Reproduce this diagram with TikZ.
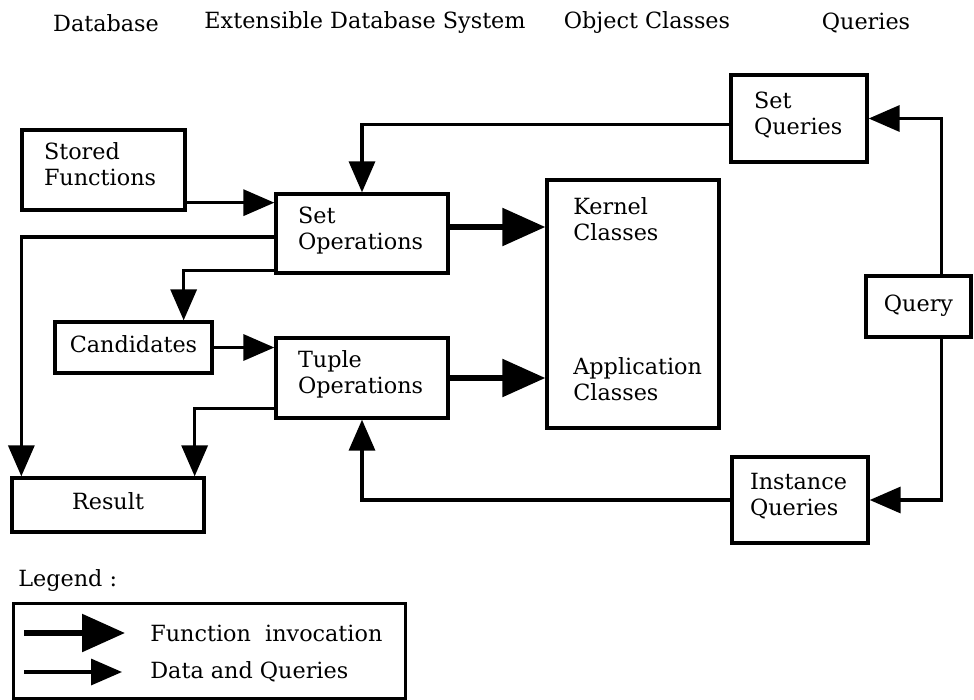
\documentclass[tikz,border=0pt]{standalone}
\usepackage{fontspec}
\setmainfont{DejaVu Serif}
\usetikzlibrary{positioning,arrows.meta,calc}

\tikzset{
  every node/.style={font=\fontsize{12.7}{14.8}\selectfont},
  blk/.style={draw, line width=1.9pt, inner xsep=0.44cm, inner ysep=0pt, align=left},
  oneln/.style={text depth=0.14cm},
  twoln/.style={text depth=0.74cm},
  dq/.style={line width=1.9pt, -{Triangle[length=0.62cm,width=0.52cm]}},
  fn/.style={line width=3.2pt, -{Triangle[length=0.86cm,width=0.74cm]}},
  txt/.style={inner sep=0pt, align=left},
}

\begin{document}
\begin{tikzpicture}[x=0.02cm, y=-0.02cm]
  \useasboundingbox (0,0) rectangle (974,700);

  % Column headings
  \node (hdb)   at (106,23) {Database};
  \node (heds)  at (365,23) {Extensible Database System};
  \node (hobj)  at (647,23) {Object Classes};
  \node (hqry)  at (866,23) {Queries};

  % Database side
  \node[blk, twoln, text width=2.38cm, minimum height=1.6cm] (sfun) at (103.5,170) {Stored\\Functions};
  \node[blk, oneln, inner xsep=0.2cm, minimum width=3.14cm, minimum height=1.02cm, align=center] (cand) at (133.5,347.5) {Candidates};
  \node[blk, oneln, minimum width=3.84cm, minimum height=1.08cm, align=center] (result) at (108,505) {Result};

  % Extensible database system
  \node[blk, twoln, text width=2.56cm, minimum height=1.58cm] (setop) at (362,233.5) {Set\\Operations};
  \node[blk, twoln, text width=2.56cm, minimum height=1.6cm] (tupop) at (362,378) {Tuple\\Operations};

  % Object classes
  \node[blk, minimum width=3.44cm, minimum height=4.96cm] (classes) at (633,304) {};
  \node[txt, anchor=west] (kernel) at (573,219) {Kernel\\Classes};
  \node[txt, anchor=west] (appl) at (573,379) {Application\\Classes};

  % Queries
  \node[blk, twoln, inner xsep=0.46cm, text width=1.8cm, minimum height=1.74cm] (setq) at (799,118.5) {Set\\Queries};
  \node[blk, twoln, inner xsep=0.36cm, text width=2.0cm, minimum height=1.72cm] (instq) at (800,500) {Instance\\Queries};
  \node[blk, oneln, inner xsep=0.2cm, minimum width=2.1cm, minimum height=1.22cm, align=center] (query) at (918.5,306.5) {Query};

  % Data and queries
  \draw[dq] ([yshift=0.18cm]sfun.south east) -- ([yshift=0.18cm]sfun.south east -| setop.west);
  \draw[dq] ([yshift=-0.12cm]setq.west) -| (setop.north);
  \draw[dq] ([xshift=0.46cm]query.north) |- (setq.east);
  \draw[dq] ([xshift=0.46cm]query.south) |- (instq.east);
  \draw[dq] (instq.west) -| (tupop.south);
  \draw[dq] ([yshift=-0.07cm]setop.west) -| ([xshift=0.22cm]result.north west);
  \draw[dq] ([yshift=0.08cm]setop.south west) -| ([xshift=-0.6cm]cand.north east);
  \draw[dq] (cand.east) -- (cand.east -| tupop.west);
  \draw[dq] ([yshift=0.22cm]tupop.south west) -| ([xshift=-0.22cm]result.north east);

  % Function invocation
  \draw[fn] ([yshift=0.13cm]setop.east) -- ([yshift=0.13cm]setop.east -| classes.west);
  \draw[fn] (tupop.east) -- (tupop.east -| classes.west);

  % Legend
  \node[txt, anchor=west] (leglbl) at (18,580) {Legend :};
  \node[draw, line width=1.9pt, minimum width=7.84cm, minimum height=1.9cm, anchor=north west] (legbox) at (12,602) {};
  \node[txt, anchor=west] (lfn) at (150,633) {Function \ invocation};
  \node[txt, anchor=west] (ldq) at (150,672) {Data and Queries};
  \draw[fn] ([xshift=-2.52cm]lfn.west) -- ([xshift=-0.5cm]lfn.west);
  \draw[dq] ([xshift=-2.52cm]ldq.west) -- ([xshift=-0.56cm]ldq.west);
\end{tikzpicture}
\end{document}
